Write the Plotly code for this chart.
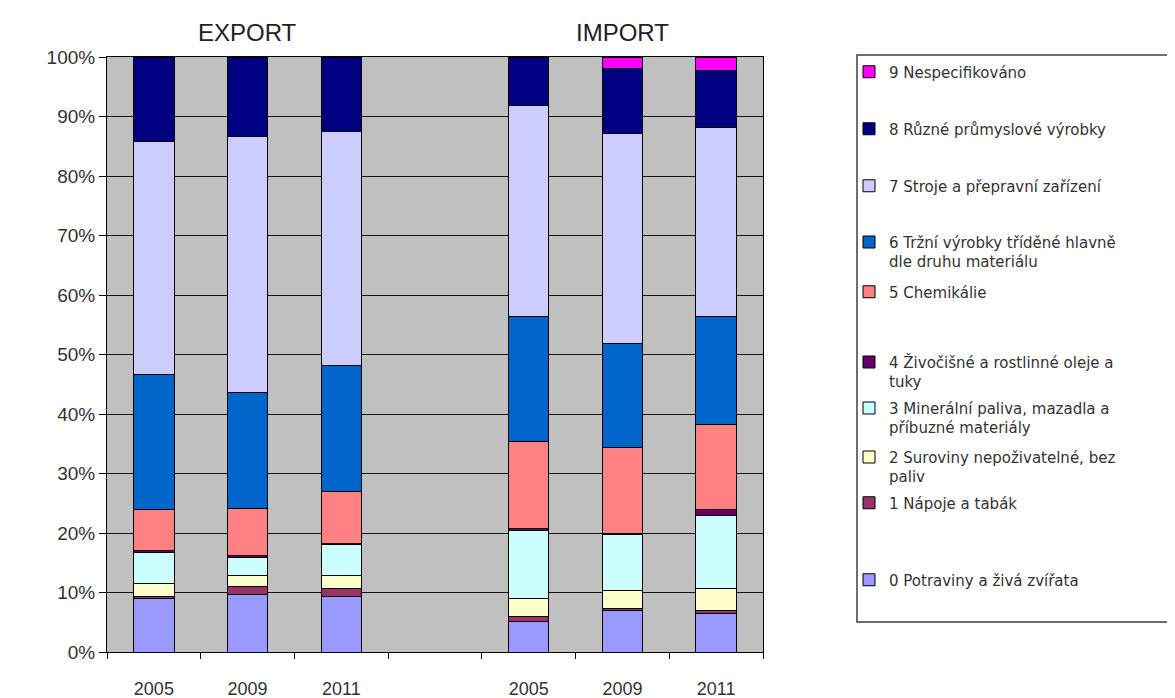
import plotly.graph_objects as go

# ---- data (percent shares) ----
years = ["2005", "2009", "2011"]
flows = ["EXPORT", "IMPORT"]

categories = [
    "0 Potraviny a živá zvířata",
    "1 Nápoje a tabák",
    "2 Suroviny nepoživatelné, bez<br>paliv",
    "3 Minerální paliva, mazadla a<br>příbuzné materiály",
    "4 Živočišné a rostlinné oleje a<br>tuky",
    "5 Chemikálie",
    "6 Tržní výrobky tříděné hlavně<br>dle druhu materiálu",
    "7 Stroje a přepravní zařízení",
    "8 Různé průmyslové výrobky",
    "9 Nespecifikováno",
]

export_vals = [
    [9.0, 9.7, 9.3],     # 0
    [0.4, 1.3, 1.4],     # 1
    [2.1, 1.9, 2.2],     # 2
    [5.3, 3.0, 5.1],     # 3
    [0.3, 0.3, 0.2],     # 4
    [6.8, 7.9, 8.7],     # 5
    [22.7, 19.5, 21.3],  # 6
    [39.2, 43.1, 39.3],  # 7
    [14.2, 13.3, 12.5],  # 8
    [0.0, 0.0, 0.0],     # 9
]

import_vals = [
    [5.1, 6.9, 6.5],     # 0
    [0.8, 0.4, 0.4],     # 1
    [3.1, 3.1, 3.8],     # 2
    [11.4, 9.3, 12.3],   # 3
    [0.4, 0.3, 0.9],     # 4
    [14.5, 14.4, 14.3],  # 5
    [21.1, 17.5, 18.2],  # 6
    [35.5, 35.3, 31.8],  # 7
    [8.1, 10.9, 9.5],    # 8
    [0.0, 1.9, 2.3],     # 9
]

colors = ["#9999FF", "#993366", "#FFFFCC", "#CCFFFF", "#660066",
          "#FF8080", "#0066CC", "#CCCCFF", "#000080", "#FF00FF"]

y_ticks = list(range(0, 101, 10))

# ---- layout geometry (page pixels; the page has an 8px body margin) ----
PAGE_OFF = 8
FIG_W, FIG_H = 1167, 690
PLOT_L, PLOT_R, PLOT_T, PLOT_B = 107, 763, 57, 652
PW, PH = PLOT_R - PLOT_L, PLOT_B - PLOT_T


def px_x(x):
    return (x - PLOT_L) / PW


def px_y(y):
    return (PLOT_B - y) / PH


# first-line vertical position of each legend entry (page px), by category index
legend_line_y = [580, 503, 457, 408, 362, 292, 242, 186, 129, 72]
LEGEND_LEFT = 849
LEGEND_FONT = 15
LINE_H = LEGEND_FONT * 1.3

n = len(years)
x_exp = list(range(n))
x_imp = [i + n + 1 for i in range(n)]
x_all = x_exp + x_imp

font_family = "Liberation Sans, Arial, sans-serif"
legend_family = "DejaVu Sans, Liberation Sans, sans-serif"

fig = go.Figure()
legends = {}
for i, cat in enumerate(categories):
    lname = "legend" if i == 0 else "legend%d" % (i + 1)
    nlines = cat.count("<br>") + 1
    center_y = legend_line_y[i] + (nlines - 1) * LINE_H / 2
    legends[lname] = dict(
        x=px_x(LEGEND_LEFT), xanchor="left",
        y=px_y(center_y), yanchor="middle",
        valign="top",
        bgcolor="rgba(0,0,0,0)", borderwidth=0,
        font=dict(family=legend_family, size=LEGEND_FONT, color="#333333"),
        itemclick=False, itemdoubleclick=False,
    )
    fig.add_trace(go.Bar(
        x=x_all,
        y=export_vals[i] + import_vals[i],
        name=cat,
        legend=lname,
        marker=dict(color=colors[i], line=dict(color="black", width=1)),
        width=0.43,
        hovertemplate="%{y}%<extra>" + cat.replace("<br>", " ") + "</extra>",
    ))

fig.update_layout(
    width=FIG_W, height=FIG_H,
    barmode="stack",
    paper_bgcolor="white",
    plot_bgcolor="#C0C0C0",
    margin=dict(l=PLOT_L - PAGE_OFF, r=PAGE_OFF + FIG_W - PLOT_R,
                t=PLOT_T - PAGE_OFF, b=PAGE_OFF + FIG_H - PLOT_B,
                autoexpand=False),
    font=dict(family=font_family, color="#333333"),
    showlegend=True,
    xaxis=dict(
        range=[-0.5, len(x_all) + 0.5],
        tickmode="array",
        tickvals=x_all,
        ticktext=years + years,
        ticks="",
        ticklabelstandoff=20,
        tickfont=dict(size=18, color="#333333"),
        showgrid=False,
        zeroline=False,
        showline=True, linecolor="black", linewidth=1, mirror=True,
        minor=dict(
            tickmode="array",
            tickvals=[v - 0.5 for v in range(len(x_all) + 2)],
            ticks="outside", ticklen=6, tickcolor="black", tickwidth=1,
            showgrid=False,
        ),
    ),
    yaxis=dict(
        range=[0, 100],
        tickmode="array",
        tickvals=y_ticks,
        ticktext=["%d%%" % v for v in y_ticks],
        ticks="outside", ticklen=7, tickcolor="black",
        tickfont=dict(size=19, color="#333333"),
        showgrid=True, gridcolor="#151515", gridwidth=1,
        zeroline=False,
        showline=True, linecolor="black", linewidth=1, mirror=True,
    ),
    **legends,
)

# legend frame
fig.add_shape(type="rect", xref="paper", yref="paper",
              x0=px_x(857), x1=px_x(1190), y0=px_y(622), y1=px_y(55),
              line=dict(color="#404040", width=1.5),
              fillcolor="rgba(0,0,0,0)", layer="above")

for flow, xs in zip(flows, [x_exp, x_imp]):
    fig.add_annotation(x=xs[len(xs) // 2], y=1.0, xref="x", yref="paper",
                       text=flow, showarrow=False, yanchor="bottom", yshift=9,
                       font=dict(family=font_family, size=24, color="#222222"))

fig.write_html("out.html")
